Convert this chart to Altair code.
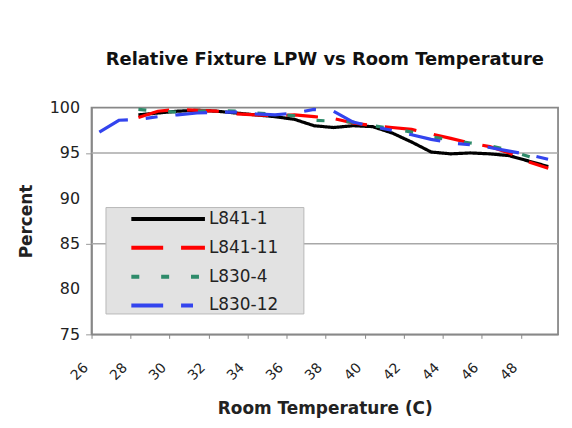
import altair as alt
import pandas as pd

series_names = ["L841-1", "L841-11", "L830-4", "L830-12"]
series_colors = ["#000000", "#ff0000", "#2e8b6a", "#3344ee"]
series_dashes = [[1, 0], [32, 18], [8, 22], [32, 18, 12, 18]]

temps_a = [28.4, 29.4, 30.4, 31.4, 32.4, 33.4, 34.4, 35.4, 36.4, 37.4, 38.4,
           39.4, 40.4, 41.4, 42.4, 43.4, 44.4, 45.4, 46.4, 47.4, 48.4, 49.4]
temps_b = [26.4, 27.4, 28.4, 29.4, 30.4, 31.4, 32.4, 33.4, 34.4, 35.4, 36.4, 37.4,
           38.4, 39.4, 40.4, 41.4, 42.4, 43.4, 44.4, 45.4, 46.4, 47.4, 48.4, 49.4]

l841_1 = [99.2, 99.4, 99.6, 99.7, 99.6, 99.4, 99.2, 99.0, 98.7, 98.0, 97.8,
          98.0, 97.9, 97.2, 96.2, 95.1, 94.9, 95.0, 94.9, 94.7, 94.1, 93.5]
l841_11 = [98.9, 99.6, 99.8, 99.7, 99.6, 99.3, 99.2, 99.1, 99.2, 99.0, 98.8,
           98.3, 98.0, 97.8, 97.6, 97.1, 96.6, 96.1, 95.7, 95.0, 94.0, 93.3]
l830_4 = [99.8, 99.6, 99.5, 99.6, 99.7, 99.6, 99.4, 99.3, 99.1, 98.6, 98.5,
          98.4, 98.0, 97.7, 97.3, 96.8, 96.4, 96.1, 95.8, 95.3, 94.6, 93.9]
l830_12 = [97.3, 98.6, 98.7, 99.0, 99.2, 99.4, 99.5, 99.5, 99.3, 99.2, 99.4, 99.8,
           99.6, 98.4, 97.9, 97.5, 97.0, 96.5, 96.1, 95.9, 95.6, 95.2, 94.8, 94.3]

x_ticks = [26, 28, 30, 32, 34, 36, 38, 40, 42, 44, 46, 48]
y_ticks = [75, 80, 85, 90, 95, 100]
grid_values = [85, 95]

rows = []
for name, temps, vals in [
    (series_names[0], temps_a, l841_1),
    (series_names[1], temps_a, l841_11),
    (series_names[2], temps_a, l830_4),
    (series_names[3], temps_b, l830_12),
]:
    for t, v in zip(temps, vals):
        rows.append({"series": name, "temp": t, "pct": v})
df = pd.DataFrame(rows)
df["order"] = df["series"].map({n: i for i, n in enumerate(series_names)})

FONT = "DejaVu Sans"
PAD = "\u2800" * 2

xscale = alt.Scale(domain=[26.0, 49.9], nice=False, zero=False)
yscale = alt.Scale(domain=[75, 100], nice=False, zero=False)

grid = alt.Chart(pd.DataFrame({"g": grid_values})).mark_rule(
    color="#a8a8a8", strokeWidth=1.5
).encode(y=alt.Y("g:Q", scale=yscale))

lines = alt.Chart(df).mark_line(strokeWidth=3.2).encode(
    x=alt.X("temp:Q", scale=xscale,
            axis=alt.Axis(values=x_ticks, title="Room Temperature (C)",
                          labelAngle=-45, labelAlign="right", labelBaseline="middle",
                          labelOffset=-6,
                          labelFont=FONT, labelFontSize=14, labelColor="#222",
                          labelPadding=27, titleFont=FONT, titleFontSize=17,
                          titleFontWeight="bold", titleColor="#222", titlePadding=18,
                          grid=False, domainColor="#888", tickColor="#888",
                          tickSize=4, domainWidth=1.5)),
    y=alt.Y("pct:Q", scale=yscale,
            axis=alt.Axis(values=y_ticks, title="Percent", grid=False,
                          labelFont=FONT, labelFontSize=16, labelColor="#222",
                          labelPadding=6, titleFont=FONT, titleFontSize=17,
                          titleFontWeight="bold", titleColor="#222", titlePadding=14,
                          domainColor="#888", tickColor="#999", tickSize=6,
                          tickOpacity=alt.condition("datum.value % 10 == 5",
                                                    alt.value(1), alt.value(0)),
                          domainWidth=1.5)),
    color=alt.Color("series:N",
                    scale=alt.Scale(domain=series_names, range=series_colors),
                    legend=alt.Legend(
                        title=None, orient="none", legendX=14, legendY=100,
                        symbolType="M-6.4,0H1", symbolSize=400, symbolStrokeWidth=4,
                        symbolOffset=78, labelOffset=2, padding=0, rowPadding=9,
                        fillColor="#e2e2e2", strokeColor="#b8b8b8",
                        labelFont=FONT, labelFontSize=17, labelColor="#222",
                        labelExpr="datum.label + '" + PAD + "'")),
    strokeDash=alt.StrokeDash("series:N",
                              scale=alt.Scale(domain=series_names, range=series_dashes),
                              legend=alt.Legend(title=None)),
    order=alt.Order("temp:Q"),
    detail="order:O",
)

chart = alt.layer(grid, lines).properties(
    width=469, height=228,
    padding={"left": 9, "top": 42, "right": 5, "bottom": 5},
    title=alt.TitleParams("Relative Fixture LPW vs Room Temperature", font=FONT,
                          fontSize=18, fontWeight="bold", color="#111",
                          anchor="middle", offset=31),
).configure_view(stroke="#888", strokeWidth=1.8)

chart.save("out.html", embed_options={"renderer": "svg", "actions": False})
